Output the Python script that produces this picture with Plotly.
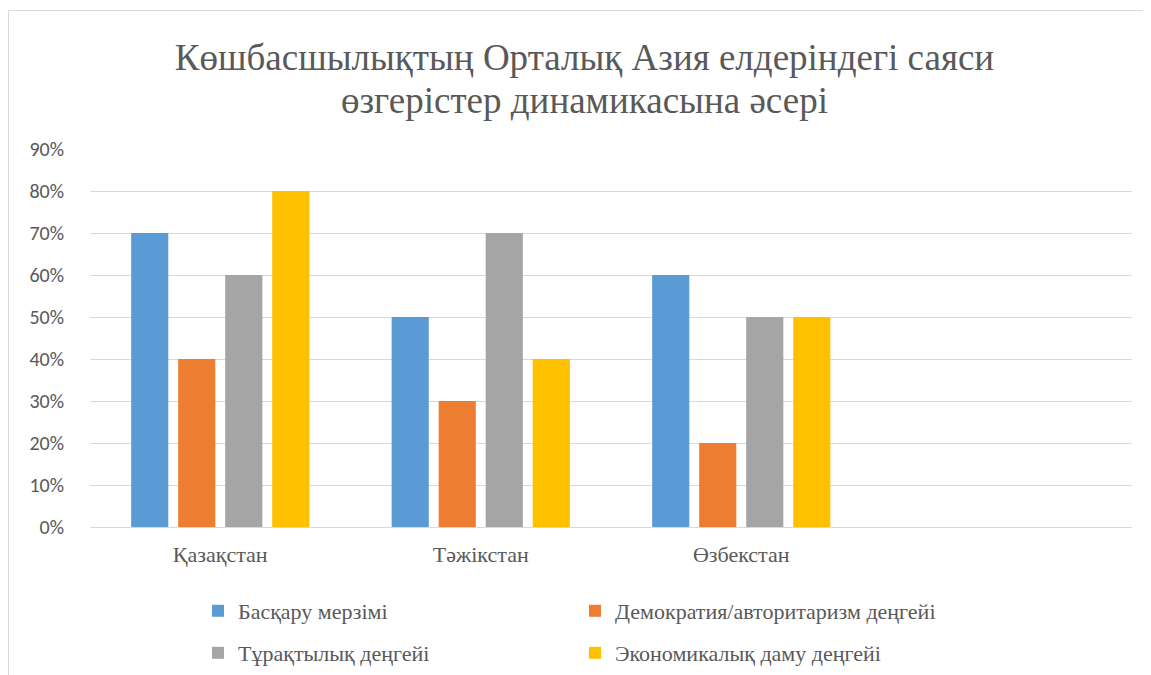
import plotly.graph_objects as go

categories = ["Қазақстан", "Тәжікстан", "Өзбекстан", " "]
series_names = ["Басқару мерзімі", "Демократия/авторитаризм деңгейі",
                "Тұрақтылық деңгейі", "Экономикалық даму деңгейі"]
basqaru = [0.70, 0.50, 0.60, None]
demokratiya = [0.40, 0.30, 0.20, None]
turaqtylyq = [0.60, 0.70, 0.50, None]
ekonomika = [0.80, 0.40, 0.50, None]
colors = ["#5B9BD5", "#ED7D31", "#A5A5A5", "#FFC000"]
tick_vals = [0, 0.1, 0.2, 0.3, 0.4, 0.5, 0.6, 0.7, 0.8, 0.9]
tick_text = ["0%", "10%", "20%", "30%", "40%", "50%", "60%", "70%", "80%", "90%"]
title_line1 = "Көшбасшылықтың Орталық Азия елдеріндегі саяси"
title_line2 = "өзгерістер динамикасына әсері"

OFF = 8  # page offset of the figure in the browser
W, H = 1143, 667
L, R, T, B = 82, 19, 141, 148

fig = go.Figure()
all_vals = [basqaru, demokratiya, turaqtylyq, ekonomika]
legends = ["legend", "legend", "legend2", "legend2"]
for name, vals, col, lg in zip(series_names, all_vals, colors, legends):
    fig.add_trace(go.Bar(x=categories, y=vals, name=name, marker_color=col,
                         marker_line_width=0, legend=lg))

pw = W - L - R
ph = H - T - B
def px_x(p):  # page x -> paper
    return (p - OFF - L) / pw
def px_y(p):  # page y -> paper
    return (H - B - (p - OFF)) / ph
def cx(p):  # page x -> container
    return (p - OFF) / W
def cy(p):  # page y -> container
    return 1 - (p - OFF) / H

serif = "Liberation Serif, Times New Roman, serif"
grey = "#595959"
legend_font = dict(family=serif, size=22, color=grey)
fig.update_layout(
    width=W, height=H,
    margin=dict(l=L, r=R, t=T, b=B, autoexpand=False),
    paper_bgcolor="white", plot_bgcolor="white",
    title=dict(text=title_line1, xref="container", yref="container",
               x=cx(584.5), xanchor="center", y=cy(57), yanchor="middle",
               font=dict(family=serif, size=37, color=grey)),
    barmode="group", bargap=0.278, bargroupgap=0.21,
    xaxis=dict(showline=True, linecolor="#d9d9d9", linewidth=1, ticks="",
               ticklabelstandoff=8,
               tickfont=dict(family=serif, size=22, color=grey),
               showgrid=False),
    yaxis=dict(range=[0, 0.9], tickvals=tick_vals, ticktext=tick_text,
               showgrid=True, gridcolor="#d9d9d9", gridwidth=1, zeroline=False,
               ticks="", ticklabelstandoff=25,
               tickfont=dict(family="Calibri, Carlito, Liberation Sans, sans-serif", size=20, color=grey)),
    legend=dict(orientation="h", xref="container", yref="container",
                x=cx(198), xanchor="left", y=cy(611), yanchor="middle",
                entrywidth=332, entrywidthmode="pixels", font=legend_font,
                itemwidth=30, tracegroupgap=0, bgcolor="rgba(0,0,0,0)"),
    legend2=dict(orientation="h", xref="container", yref="container",
                 x=cx(198), xanchor="left", y=cy(653), yanchor="middle",
                 entrywidth=332, entrywidthmode="pixels", font=legend_font,
                 itemwidth=30, tracegroupgap=0, bgcolor="rgba(0,0,0,0)"),
    showlegend=True,
)
fig.add_annotation(text=title_line2, xref="paper", yref="paper",
                   x=px_x(584.5), y=px_y(100), xanchor="center", yanchor="middle",
                   showarrow=False, font=dict(family=serif, size=37, color=grey))
fig.add_shape(type="rect", xref="paper", yref="paper",
              x0=px_x(8.5), x1=px_x(1160), y0=px_y(700), y1=px_y(10.5),
              line=dict(color="#d9d9d9", width=1), fillcolor="rgba(0,0,0,0)", layer="below")

fig.write_html("out.html")
